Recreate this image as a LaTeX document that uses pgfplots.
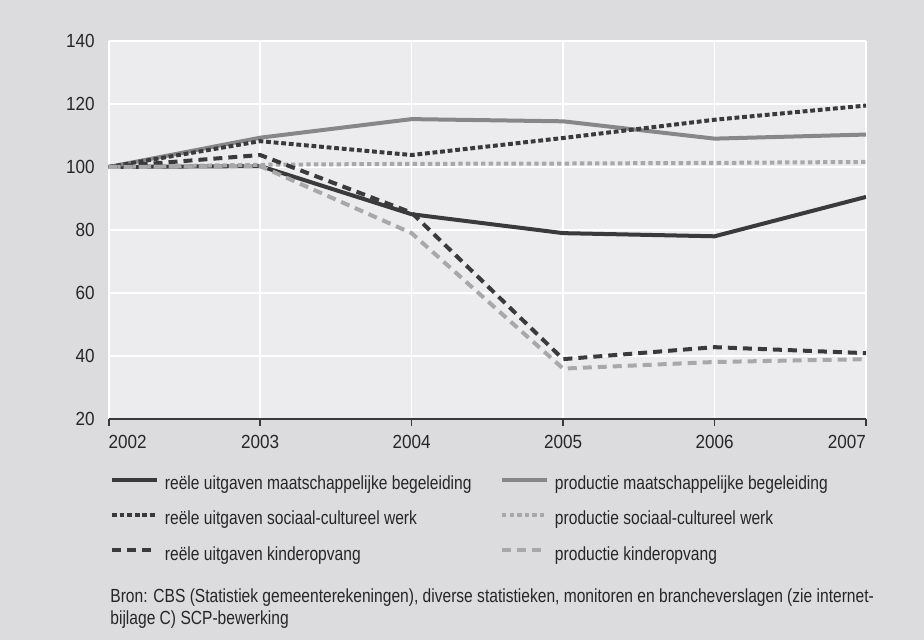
\documentclass[border=0pt]{standalone}
\usepackage{fontspec}
\setmainfont{Liberation Sans}[FakeStretch=0.82]
\newfontfamily\tickfont{Liberation Sans}[FakeStretch=0.9]
\usepackage{pgfplots}
\pgfplotsset{compat=1.18}
\definecolor{outerbg}{HTML}{DCDCDE}
\definecolor{plotbg}{HTML}{ECECEE}
\definecolor{darkl}{HTML}{3A3A3A}
\definecolor{midl}{HTML}{878787}
\definecolor{lightl}{HTML}{A8A8A8}
\definecolor{txt}{HTML}{262626}
\newcommand{\fsz}{\fontsize{9.5}{11}\selectfont\color{txt}}
\newcommand{\tsz}{\tickfont\fontsize{9.5}{11}\selectfont\color{txt}}
\begin{document}
\begin{tikzpicture}
\fill[outerbg] (0,0) rectangle (462pt,320pt);
\begin{axis}[
  at={(54.35pt,110.5pt)}, anchor=south west,
  scale only axis, width=378.65pt, height=189pt,
  xmin=2002, xmax=2007, ymin=20, ymax=140,
  xtick={2002,2003,2004,2005,2006,2007},
  xticklabels={\rlap{2002},2003,2004,2005,2006,\llap{2007}},
  ytick={20,40,60,80,100,120,140},
  /pgf/number format/assume math mode=true,
  tick label style={font=\tsz},
  axis background/.style={fill=plotbg},
  grid=major, grid style={white, line width=0.8pt},
  axis x line*=bottom, axis y line*=left,
  x axis line style={draw=darkl, line width=0.8pt, -},
  y axis line style={draw=none},
  tick align=outside, major tick length=3.5pt,
  xtick style={draw=darkl, line width=0.8pt},
  ytick style={draw=none},
  yticklabel style={xshift=0pt},
  xticklabel style={yshift=-1pt},
  legend columns=2,
  legend cell align=left,
  legend style={draw=none, fill=none, at={(0.0017,-0.1508)}, anchor=north west,
    inner sep=0pt, outer sep=0pt, font=\fsz,
    nodes={inner sep=0pt, text height=7pt, text depth=2pt},
    row sep=8.5pt,
    /tikz/every odd column/.append style={column sep=3pt}},
  legend image code/.code={\draw[#1] (0pt,2.6pt) -- (22.5pt,2.6pt);},
  every axis plot/.append style={line width=2pt, line join=round},
]
\addplot[darkl] coordinates {(2002,100)(2003,100.3)(2004,85)(2005,79)(2006,78)(2007,90.5)};
\addlegendentry{\makebox[167.5pt][l]{reële uitgaven maatschappelijke begeleiding}}
\addplot[midl] coordinates {(2002,100)(2003,109.3)(2004,115.2)(2005,114.5)(2006,109)(2007,110.3)};
\addlegendentry{productie maatschappelijke begeleiding}
\addplot[darkl, dash pattern=on 2.4pt off 1.4pt] coordinates {(2002,100)(2003,108.2)(2004,103.8)(2005,109.2)(2006,115)(2007,119.5)};
\addlegendentry{\makebox[167.5pt][l]{reële uitgaven sociaal-cultureel werk}}
\addplot[lightl, dash pattern=on 2.2pt off 1.6pt] coordinates {(2002,100)(2003,100.7)(2004,101)(2005,101.1)(2006,101.3)(2007,101.6)};
\addlegendentry{productie sociaal-cultureel werk}
\addplot[darkl, dash pattern=on 4.5pt off 3pt] coordinates {(2002,100)(2003,103.8)(2004,85.5)(2005,39)(2006,42.8)(2007,40.9)};
\addlegendentry{\makebox[167.5pt][l]{reële uitgaven kinderopvang}}
\addplot[lightl, dash pattern=on 4.5pt off 3pt] coordinates {(2002,100)(2003,100.3)(2004,79)(2005,36)(2006,38.1)(2007,39)};
\addlegendentry{productie kinderopvang}
\end{axis}
\node[anchor=base west, inner sep=0pt, font=\fsz] at (55pt,18.5pt) {Bron: CBS (Statistiek gemeenterekeningen), diverse statistieken, monitoren en brancheverslagen (zie internet-};
\node[anchor=base west, inner sep=0pt, font=\fsz] at (55pt,7.5pt) {bijlage C) SCP-bewerking};
\pgfresetboundingbox
\path (0,0) rectangle (462pt,320pt);
\end{tikzpicture}
\end{document}
